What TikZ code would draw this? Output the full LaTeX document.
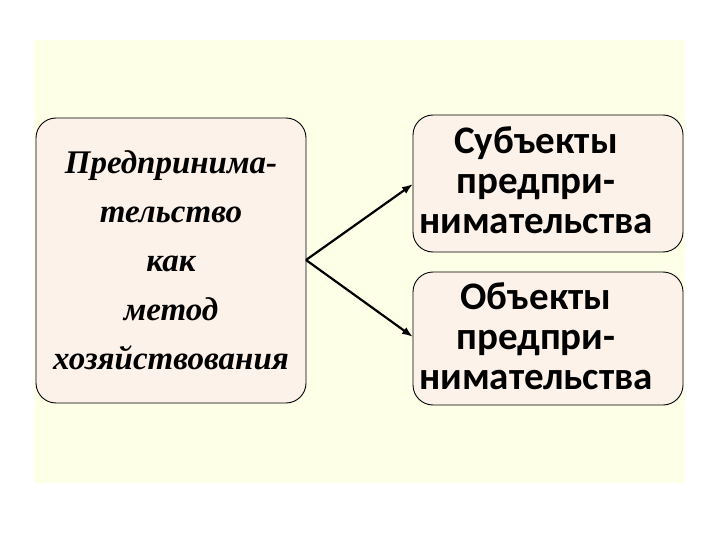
\documentclass[tikz,border=0pt]{standalone}
\usepackage{fontspec}
\setmainfont{Liberation Serif}
\newfontfamily\boxsans{Carlito}
\definecolor{bgyellow}{HTML}{FDFFE6}
\definecolor{boxfill}{HTML}{FCF2EA}
\tikzset{
  rbox/.style={draw=black, line width=0.9pt, fill=boxfill, rounded corners=20pt},
  conn/.style={-{Latex[length=11pt,width=8pt]}, line width=2.2pt, black},
}
\usetikzlibrary{arrows.meta}
\begin{document}
\begin{tikzpicture}[x=1pt,y=-1pt]
\useasboundingbox (0,0) rectangle (720,540);
\fill[white] (0,0) rectangle (720,540);
\fill[bgyellow] (34,40) rectangle (685,483);
\draw[rbox] (36,118) rectangle (306,403);
\node[align=center, font=\fontsize{33}{49}\selectfont\bfseries\itshape] (left) at (171,260)
  {Предпринима-\\тельство\\как\\метод\\хозяйствования};
\draw[rbox] (413,115) rectangle (683,252);
\node[align=center, font=\fontsize{39}{40}\selectfont\boxsans\bfseries] (subj) at (536,180)
  {Субъекты\\предпри-\\нимательства};
\draw[rbox] (413,272) rectangle (683,405);
\node[align=center, font=\fontsize{39}{40}\selectfont\boxsans\bfseries] (obj) at (536,336)
  {Объекты\\предпри-\\нимательства};
\coordinate (fork) at (306,260);
\coordinate (tA) at (413,184);
\coordinate (tB) at (413,337);
\draw[conn] (fork) -- (tA);
\draw[conn] (fork) -- (tB);
\end{tikzpicture}
\end{document}
